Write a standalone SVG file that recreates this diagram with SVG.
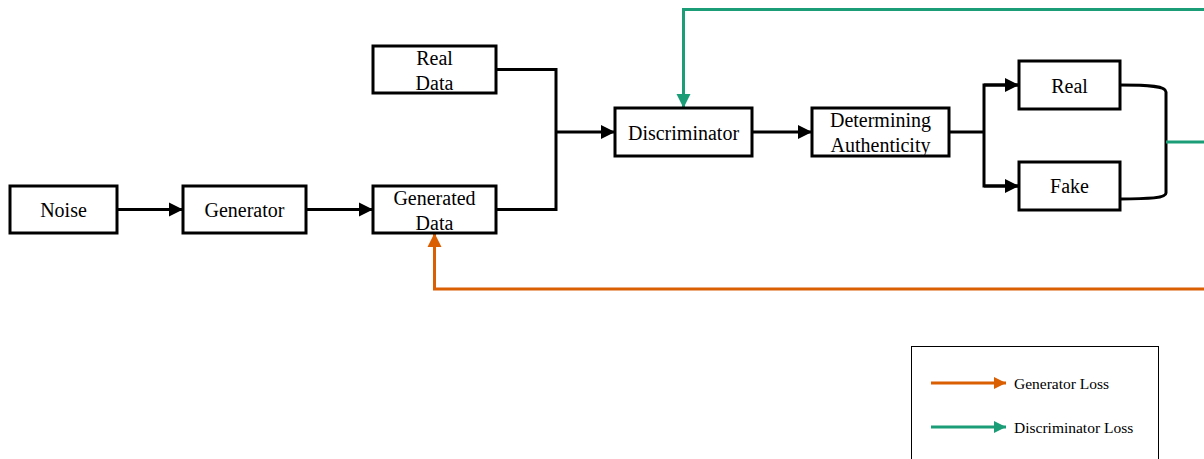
<svg xmlns="http://www.w3.org/2000/svg" width="1204" height="459" viewBox="0 0 1204 459">
<style>
.box{fill:#fff;stroke:#000;stroke-width:3}
.t{font-family:"Liberation Serif","Times New Roman",serif;font-size:20px;fill:#000;text-anchor:middle}
.lt{font-family:"Liberation Serif","Times New Roman",serif;font-size:15.5px;fill:#000}
.k{fill:none;stroke:#000;stroke-width:3}
.o{fill:none;stroke:#D95F02;stroke-width:3}
.g{fill:none;stroke:#1B9E77;stroke-width:3}
</style>
<defs>
<marker id="ak" markerUnits="userSpaceOnUse" markerWidth="16" markerHeight="16" refX="14" refY="7" orient="auto" viewBox="0 0 16 14"><path d="M0 0L14 7L0 14Z" fill="#000"/></marker>
<marker id="ao" markerUnits="userSpaceOnUse" markerWidth="16" markerHeight="16" refX="14" refY="7" orient="auto" viewBox="0 0 16 14"><path d="M0 0L14 7L0 14Z" fill="#D95F02"/></marker>
<marker id="ag" markerUnits="userSpaceOnUse" markerWidth="16" markerHeight="16" refX="14" refY="7" orient="auto" viewBox="0 0 16 14"><path d="M0 0L14 7L0 14Z" fill="#1B9E77"/></marker>
<marker id="lo" markerUnits="userSpaceOnUse" markerWidth="14" markerHeight="14" refX="12" refY="6" orient="auto" viewBox="0 0 14 12"><path d="M0 0L12 6L0 12Z" fill="#D95F02"/></marker>
<marker id="lg" markerUnits="userSpaceOnUse" markerWidth="14" markerHeight="14" refX="12" refY="6" orient="auto" viewBox="0 0 14 12"><path d="M0 0L12 6L0 12Z" fill="#1B9E77"/></marker>
</defs>
<rect width="1204" height="459" fill="#fff"/>
<g id="connectors">
<path class="k" d="M117 209.5H183" marker-end="url(#ak)"/>
<path class="k" d="M306 209.5H373" marker-end="url(#ak)"/>
<path class="k" d="M496 69.5H556V209.5H496"/>
<path class="k" d="M556 132H615" marker-end="url(#ak)"/>
<path class="k" d="M752 132H812" marker-end="url(#ak)"/>
<path class="k" d="M949 132H984"/>
<path class="k" d="M1019 85H984V186H1019"/>
<path class="k" d="M984 85H1019" marker-end="url(#ak)"/>
<path class="k" d="M984 186H1019" marker-end="url(#ak)"/>
<path class="k" d="M1120 85C1150 85 1166 86 1166 92V193C1166 198 1150 199 1120 199"/>
<path class="g" d="M1166 142H1204"/>
<path class="g" d="M1204 9.5H683.5V108" marker-end="url(#ag)"/>
<path class="o" d="M1204 289H434.5V233" marker-end="url(#ao)"/>
</g>
<g id="noise"><rect class="box" x="10" y="186" width="107" height="47"/><text class="t" x="63.5" y="216.5">Noise</text></g>
<g id="generator"><rect class="box" x="183" y="186" width="123" height="47"/><text class="t" x="244.5" y="216.5">Generator</text></g>
<g id="real-data"><rect class="box" x="373" y="46" width="123" height="47"/><text class="t" x="434.5" y="65">Real</text><text class="t" x="434.5" y="90">Data</text></g>
<g id="generated-data"><rect class="box" x="373" y="186" width="123" height="47"/><text class="t" x="434.5" y="205">Generated</text><text class="t" x="434.5" y="230">Data</text></g>
<g id="discriminator"><rect class="box" x="615" y="108" width="137" height="48"/><text class="t" x="683.5" y="140">Discriminator</text></g>
<g id="determining"><rect class="box" x="812" y="108" width="137" height="48"/><text class="t" x="880.5" y="127">Determining</text><text class="t" x="880.5" y="152">Authenticity</text></g>
<g id="real"><rect class="box" x="1019" y="61" width="101" height="48"/><text class="t" x="1069.5" y="93">Real</text></g>
<g id="fake"><rect class="box" x="1019" y="162" width="101" height="48"/><text class="t" x="1069.5" y="193">Fake</text></g>
<g id="legend">
<rect x="911.5" y="346.5" width="247" height="130" fill="#fff" stroke="#000" stroke-width="1"/>
<path class="o" d="M931 383H1006" marker-end="url(#lo)"/>
<path class="g" d="M931 427H1006" marker-end="url(#lg)"/>
<text class="lt" x="1014" y="388.5">Generator Loss</text>
<text class="lt" x="1014" y="432.5">Discriminator Loss</text>
</g>
</svg>
